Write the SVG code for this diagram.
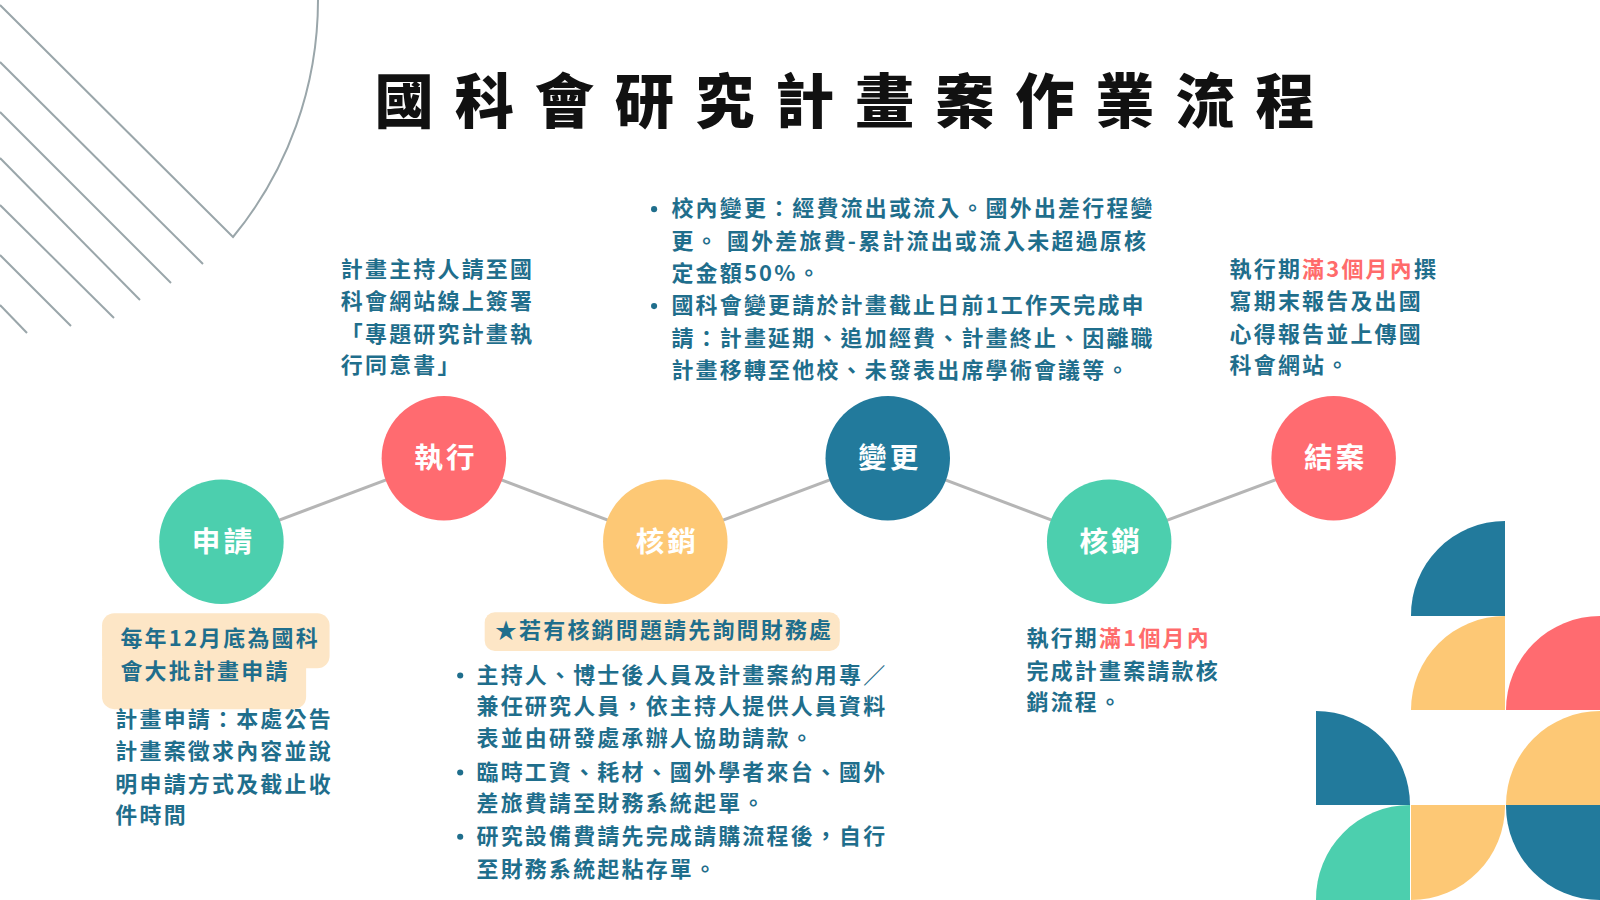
<svg xmlns="http://www.w3.org/2000/svg" width="1600" height="900" viewBox="0 0 1600 900">
<style>
.t{font-family:"Noto Sans CJK TC","Noto Sans CJK SC",sans-serif;font-weight:bold;font-size:21.5px;fill:#1f6e8c;letter-spacing:2.2px}
.r{fill:#ff6b6b}
.c{font-family:"Noto Sans CJK TC",sans-serif;font-weight:bold;font-size:28px;fill:#fff;text-anchor:middle;letter-spacing:3px}
.deco{stroke:#9aa6aa;stroke-width:2;fill:none}
.hl{fill:#fde6c6}
</style>
<rect width="1600" height="900" fill="#fff"/>
<g id="decoration-topleft" class="deco">
<path d="M0 5 L233 237 A373 373 0 0 0 318 0"/>
<line x1="0" y1="62" x2="203" y2="264"/>
<line x1="0" y1="112" x2="171" y2="283"/>
<line x1="0" y1="158" x2="140" y2="300"/>
<line x1="0" y1="205" x2="114" y2="318"/>
<line x1="0" y1="255" x2="71" y2="326"/>
<line x1="0" y1="305" x2="27" y2="333"/>
</g>
<g id="decoration-bottomright">
<path d="M1505 616 L1411 616 A94 94 0 0 1 1505 521 Z" fill="#227a9c"/>
<path d="M1505 710 L1411 710 A94 94 0 0 1 1505 616 Z" fill="#fdc875"/>
<path d="M1600 710 L1506 710 A94 94 0 0 1 1600 616 Z" fill="#ff6b70"/>
<path d="M1316 805 L1316 711 A94 94 0 0 1 1410 805 Z" fill="#227a9c"/>
<path d="M1600 805 L1506 805 A94 94 0 0 1 1600 711 Z" fill="#fdc875"/>
<path d="M1410 900 L1316 900 A94 94 0 0 1 1410 805 Z" fill="#4ccfae"/>
<path d="M1411 805 L1505 805 A94 94 0 0 1 1411 900 Z" fill="#fdc875"/>
<path d="M1600 805 L1600 900 A94 94 0 0 1 1506 805 Z" fill="#227a9c"/>
</g>
<g transform="scale(1.0204)">
<text id="title" x="838" y="121" text-anchor="middle" font-family="Noto Sans CJK TC,sans-serif" font-weight="900" font-size="58" letter-spacing="20.5" fill="#111">國科會研究計畫案作業流程</text>
<g id="connectors" stroke="#b5b5b5" stroke-width="3">
<line x1="217" y1="531" x2="435" y2="449"/>
<line x1="435" y1="449" x2="652" y2="531"/>
<line x1="652" y1="531" x2="870" y2="449"/>
<line x1="870" y1="449" x2="1087" y2="531"/>
<line x1="1087" y1="531" x2="1307" y2="449"/>
</g>
<g id="node-apply"><circle cx="217" cy="531" r="61" fill="#4ccfae"/><text class="c" x="219" y="541">申請</text></g>
<g id="node-exec"><circle cx="435" cy="449" r="61" fill="#ff6b70"/><text class="c" x="437" y="459">執行</text></g>
<g id="node-verify1"><circle cx="652" cy="531" r="61" fill="#fdc875"/><text class="c" x="654" y="541">核銷</text></g>
<g id="node-change"><circle cx="870" cy="449" r="61" fill="#227a9c"/><text class="c" x="872" y="459">變更</text></g>
<g id="node-verify2"><circle cx="1087" cy="531" r="61" fill="#4ccfae"/><text class="c" x="1089" y="541">核銷</text></g>
<g id="node-close"><circle cx="1307" cy="449" r="61" fill="#ff6b70"/><text class="c" x="1309" y="459">結案</text></g>
<g id="note-exec" class="t">
<text x="334" y="271">計畫主持人請至國</text>
<text x="334" y="303">科會網站線上簽署</text>
<text x="334" y="335">「專題研究計畫執</text>
<text x="334" y="366">行同意書」</text>
</g>
<g id="note-change" class="t">
<circle cx="641" cy="205" r="3" fill="#1f6e8c"/>
<circle cx="641" cy="300" r="3" fill="#1f6e8c"/>
<text x="658" y="212">校內變更：經費流出或流入。國外出差行程變</text>
<text x="658" y="244">更。 國外差旅費-累計流出或流入未超過原核</text>
<text x="658" y="275">定金額50%。</text>
<text x="658" y="307">國科會變更請於計畫截止日前1工作天完成申</text>
<text x="658" y="339">請：計畫延期、追加經費、計畫終止、因離職</text>
<text x="658" y="370">計畫移轉至他校、未發表出席學術會議等。</text>
</g>
<g id="note-close" class="t">
<text x="1205" y="271">執行期<tspan class="r">滿3個月內</tspan>撰</text>
<text x="1205" y="303">寫期末報告及出國</text>
<text x="1205" y="335">心得報告並上傳國</text>
<text x="1205" y="366">科會網站。</text>
</g>
<g id="note-apply" class="t">
<rect class="hl" x="100" y="601" width="223" height="54" rx="12"/>
<rect class="hl" x="100" y="636" width="200" height="59" rx="12"/>
<text x="118" y="633">每年12月底為國科</text>
<text x="118" y="665">會大批計畫申請</text>
<text x="113" y="712">計畫申請：本處公告</text>
<text x="113" y="744">計畫案徵求內容並說</text>
<text x="113" y="776">明申請方式及截止收</text>
<text x="113" y="807">件時間</text>
</g>
<g id="note-verify1" class="t">
<rect class="hl" x="475" y="600" width="348" height="38" rx="10"/>
<text x="485" y="625">★若有核銷問題請先詢問財務處</text>
<circle cx="451" cy="662" r="3" fill="#1f6e8c"/>
<circle cx="451" cy="757" r="3" fill="#1f6e8c"/>
<circle cx="451" cy="820" r="3" fill="#1f6e8c"/>
<text x="467" y="669">主持人、博士後人員及計畫案約用專／</text>
<text x="467" y="700">兼任研究人員，依主持人提供人員資料</text>
<text x="467" y="731">表並由研發處承辦人協助請款。</text>
<text x="467" y="764">臨時工資、耗材、國外學者來台、國外</text>
<text x="467" y="795">差旅費請至財務系統起單。</text>
<text x="467" y="827">研究設備費請先完成請購流程後，自行</text>
<text x="467" y="859">至財務系統起粘存單。</text>
</g>
<g id="note-verify2" class="t">
<text x="1006" y="633">執行期<tspan class="r">滿1個月內</tspan></text>
<text x="1006" y="665">完成計畫案請款核</text>
<text x="1006" y="696">銷流程。</text>
</g>
</g>
</svg>
